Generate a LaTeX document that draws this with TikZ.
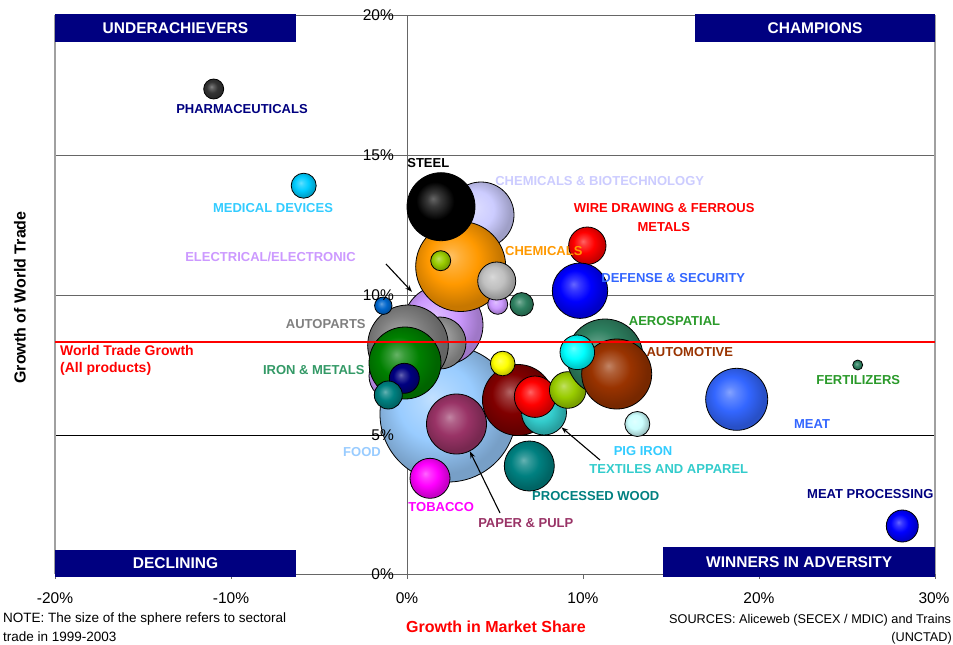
\documentclass[tikz,border=0pt]{standalone}
\usepackage{fontspec}
\setmainfont{Liberation Sans}
\usetikzlibrary{arrows.meta}
\definecolor{Cnavy}{HTML}{000080}
\definecolor{Cpharma}{HTML}{333333}
\definecolor{Cmed}{HTML}{00CCFF}
\definecolor{CmedL}{HTML}{33CCFF}
\definecolor{Clav}{HTML}{CCCCFF}
\definecolor{Corange}{HTML}{FF9900}
\definecolor{Cdefl}{HTML}{3366FF}
\definecolor{Cpurple}{HTML}{CC99FF}
\definecolor{Cgray}{HTML}{808080}
\definecolor{Cmgray}{HTML}{969696}
\definecolor{Clgray}{HTML}{C0C0C0}
\definecolor{Csea}{HTML}{2E8060}
\definecolor{Cseal}{HTML}{339966}
\definecolor{Cgreenl}{HTML}{2A9A2A}
\definecolor{Cbrown}{HTML}{993300}
\definecolor{Cgreen}{HTML}{008000}
\definecolor{Cfood}{HTML}{99CCFF}
\definecolor{Cplum}{HTML}{993366}
\definecolor{Cmag}{HTML}{FF00FF}
\definecolor{Cteal}{HTML}{008080}
\definecolor{Cpig}{HTML}{CCFFFF}
\definecolor{Ctex}{HTML}{33CCCC}
\definecolor{Cyellow}{HTML}{FFFF00}
\definecolor{Cdred}{HTML}{800000}
\definecolor{Cred}{HTML}{FF0000}
\definecolor{Cyg}{HTML}{99CC00}
\definecolor{Ccyan}{HTML}{00FFFF}
\definecolor{Cblue}{HTML}{0000FF}
\definecolor{Cbsmall}{HTML}{0066CC}
\definecolor{Cgrid}{HTML}{666666}
\definecolor{Cborder}{HTML}{A0A0A0}
\colorlet{sphc}{black}
\pgfdeclareradialshading[sphc]{sph}{\pgfqpoint{-6bp}{6bp}}{color(0bp)=(sphc!60!white); color(5bp)=(sphc!78!white); color(14bp)=(sphc); color(25bp)=(sphc!78!black); color(50bp)=(sphc!78!black)}
\newcommand\myball[5]{\colorlet{sphc}{#5}\node[ballst, minimum size={2*#4pt}] (#1) at (#2,#3) {};}
\tikzset{
  ballst/.style={circle, draw=black, line width=0.8pt, inner sep=0pt, shade, shading=sph},
  lab/.style={font=\fontsize{13}{15}\selectfont\bfseries, inner sep=0pt},
  hdr/.style={fill=Cnavy, text=white, font=\fontsize{15.5}{17}\selectfont\bfseries, inner sep=0pt},
  tick/.style={font=\fontsize{15.5}{17}\selectfont, inner sep=0pt},
  note/.style={font=\fontsize{13.5}{16}\selectfont, inner sep=0pt},
  srcnote/.style={font=\fontsize{12.7}{15}\selectfont, inner sep=0pt},
  gridl/.style={draw=Cgrid, line width=1pt},
  arr/.style={draw=black, line width=1.1pt, -{Stealth[length=7pt,width=5pt]}}
}
\begin{document}
\begin{tikzpicture}[x=1pt,y=-1pt]
\useasboundingbox (0,0) rectangle (953,645);
\clip (0,0) rectangle (953,645);
\fill[white] (0,0) rectangle (953,645);
% grid and frame
\draw[gridl] (55,15) -- (935,15);
\draw[gridl] (55,155) -- (935,155);
\draw[gridl] (55,295) -- (935,295);
\draw[draw=black, line width=0.8pt] (55,435) -- (935,435);
\draw[draw=Cborder, line width=1.3pt] (55,15) -- (55,574);
\draw[draw=Cborder, line width=1.3pt] (935,15) -- (935,574);
\draw[draw=Cgrid, line width=1pt] (55,574) -- (935,574);
\draw[draw=Cgrid, line width=1pt] (407,15) -- (407,579);
\foreach \yy in {15,155,295,435,574} {\draw[draw=Cgrid, line width=1pt] (401,\yy) -- (407,\yy);}
\foreach \xx in {55,231,407,583,759,935} {\draw[draw=Cgrid, line width=1pt] (\xx,574) -- (\xx,579);}
% quadrant headers
\node[hdr, minimum width=241pt, minimum height=28pt] (hUnder) at (175.5,28) {UNDERACHIEVERS};
\node[hdr, minimum width=240pt, minimum height=28pt] (hChamp) at (815,28) {CHAMPIONS};
\node[hdr, minimum width=241pt, minimum height=27.6pt] (hDecl) at (175.5,563.5) {DECLINING};
\node[hdr, minimum width=271.7pt, minimum height=30.3pt] (hWin) at (799.2,562.2) {WINNERS IN ADVERSITY};
% bubbles
\myball{food}{448}{414}{68}{Cfood}
\myball{chembio}{481}{215}{33}{Clav}
\myball{elec}{443}{325}{40}{Cpurple}
\myball{purpleb}{393}{376}{24}{Cpurple}
\myball{orange}{460.7}{266.5}{45}{Corange}
\myball{steel}{441}{206.7}{34}{black}
\myball{ygone}{440.7}{260.7}{10}{Cyg}
\myball{spurple}{497.7}{304.3}{10}{Cpurple}
\myball{lgray}{496.7}{281}{19}{Clgray}
\myball{dgreen}{521.7}{304.3}{11.7}{Csea}
\myball{mgray}{440}{343}{26}{Cmgray}
\myball{autoparts}{408}{345.3}{40.3}{Cgray}
\myball{bsmall}{383.3}{305.7}{8.7}{Cbsmall}
\myball{iron}{405}{363}{36}{Cgreen}
\myball{navyb}{404.3}{378.3}{15}{Cnavy}
\myball{tealb}{388.3}{395}{14}{Cteal}
\myball{paper}{456.5}{424}{30}{Cplum}
\myball{tobacco}{430}{478.3}{20}{Cmag}
\myball{dred}{518}{400}{35.5}{Cdred}
\myball{yellowb}{502.7}{363.5}{12.3}{Cyellow}
\myball{textiles}{544}{412.5}{22.5}{Ctex}
\myball{redtwo}{535}{396.7}{20.7}{Cred}
\myball{ygtwo}{567.7}{390}{18.3}{Cyg}
\myball{wood}{529.3}{466}{25}{Cteal}
\myball{aero}{605}{357}{38}{Csea}
\myball{brown}{616.7}{374}{35}{Cbrown}
\myball{cyanb}{577.3}{352.3}{17.3}{Ccyan}
\myball{pigiron}{637.3}{424}{12.5}{Cpig}
\myball{wire}{587.3}{245.7}{18.7}{Cred}
\myball{defense}{580}{290.7}{27.7}{Cblue}
\myball{fert}{857.7}{365}{5}{Csea}
\myball{meat}{736.7}{399.3}{31}{Cdefl}
\myball{meatproc}{902.3}{526}{16}{Cblue}
\myball{pharma}{213.7}{89}{10}{Cpharma}
\myball{meddev}{303.7}{185.7}{12.5}{Cmed}
% world trade growth line
\draw[draw=red, line width=2pt] (55,342) -- (935,342);
% labels
\node[lab, text=Cnavy] (lPharma) at (242,109) {PHARMACEUTICALS};
\node[lab, text=CmedL] (lMed) at (273,208) {MEDICAL DEVICES};
\node[lab, text=black] (lSteel) at (428.3,163.3) {STEEL};
\node[lab, text=Clav] (lChemBio) at (599.7,181) {CHEMICALS \& BIOTECHNOLOGY};
\node[lab, text=red] (lWire) at (664.2,208) {WIRE DRAWING \& FERROUS};
\node[lab, text=red] (lWire2) at (663.8,227) {METALS};
\node[lab, text=Corange] (lChem) at (543.8,251) {CHEMICALS};
\node[lab, text=Cdefl] (lDef) at (673.3,278) {DEFENSE \& SECURITY};
\node[lab, text=Cpurple] (lElec) at (270.5,256.7) {ELECTRICAL/ELECTRONIC};
\node[lab, text=Cgray] (lAuto) at (325.8,324) {AUTOPARTS};
\node[lab, text=Cgreenl] (lAero) at (674.5,321) {AEROSPATIAL};
\node[lab, text=Cbrown] (lAutomotive) at (689.8,352.3) {AUTOMOTIVE};
\node[lab, text=red, font=\fontsize{14}{16}\selectfont\bfseries, anchor=west] (lWTG) at (60,350) {World Trade Growth};
\node[lab, text=red, font=\fontsize{14}{16}\selectfont\bfseries, anchor=west] (lWTG2) at (60,369.3) {(All products)};
\node[lab, text=Cseal] (lIron) at (313.8,370) {IRON \& METALS};
\node[lab, text=Cgreenl] (lFert) at (858.2,380) {FERTILIZERS};
\node[lab, text=Cdefl] (lMeat) at (812,424) {MEAT};
\node[lab, text=Cfood] (lFood) at (362,451.7) {FOOD};
\node[lab, text=CmedL] (lPig) at (643,451) {PIG IRON};
\node[lab, text=Ctex] (lTex) at (668.8,469) {TEXTILES AND APPAREL};
\node[lab, text=Cteal] (lWood) at (595.8,495.7) {PROCESSED WOOD};
\node[lab, text=Cnavy] (lMeatProc) at (870.3,494.3) {MEAT PROCESSING};
\node[lab, text=Cmag] (lTob) at (441.2,507.3) {TOBACCO};
\node[lab, text=Cplum] (lPaper) at (525.8,523) {PAPER \& PULP};
% arrows
\coordinate (aEl) at (386,264);
\coordinate (aPa) at (500,513);
\coordinate (aTx) at (600,460);
\draw[arr, shorten >=5pt] (aEl) -- (elec);
\draw[arr] (aPa) -- (paper);
\draw[arr] (aTx) -- (textiles);
% axis tick labels
\node[tick, anchor=east] (y20) at (394,15) {20\%};
\node[tick, anchor=east] (y15) at (394,155) {15\%};
\node[tick, anchor=east] (y10) at (394,295.5) {10\%};
\node[tick, anchor=east] (y5) at (394,435) {5\%};
\node[tick, anchor=east] (y0) at (394,574) {0\%};
\node[tick] (xm20) at (55,598) {-20\%};
\node[tick] (xm10) at (231,598) {-10\%};
\node[tick] (x0) at (407,598) {0\%};
\node[tick] (x10) at (583,598) {10\%};
\node[tick] (x20) at (759,598) {20\%};
\node[tick] (x30) at (934,598) {30\%};
% axis titles
\node[font=\fontsize{16}{18}\selectfont\bfseries, rotate=90, inner sep=0pt] (yTitle) at (20,297.5) {Growth of World Trade};
\node[font=\fontsize{16}{18}\selectfont\bfseries, text=red, inner sep=0pt] (xTitle) at (496,627) {Growth in Market Share};
% notes
\node[note, anchor=west] (note1) at (3,619) {NOTE: The size of the sphere refers to sectoral};
\node[note, anchor=west] (note2) at (3,637) {trade in 1999-2003};
\node[srcnote, anchor=west] (src1) at (669,620) {SOURCES: Aliceweb (SECEX / MDIC) and Trains};
\node[srcnote, anchor=east] (src2) at (952,638) {(UNCTAD)};
\end{tikzpicture}
\end{document}
